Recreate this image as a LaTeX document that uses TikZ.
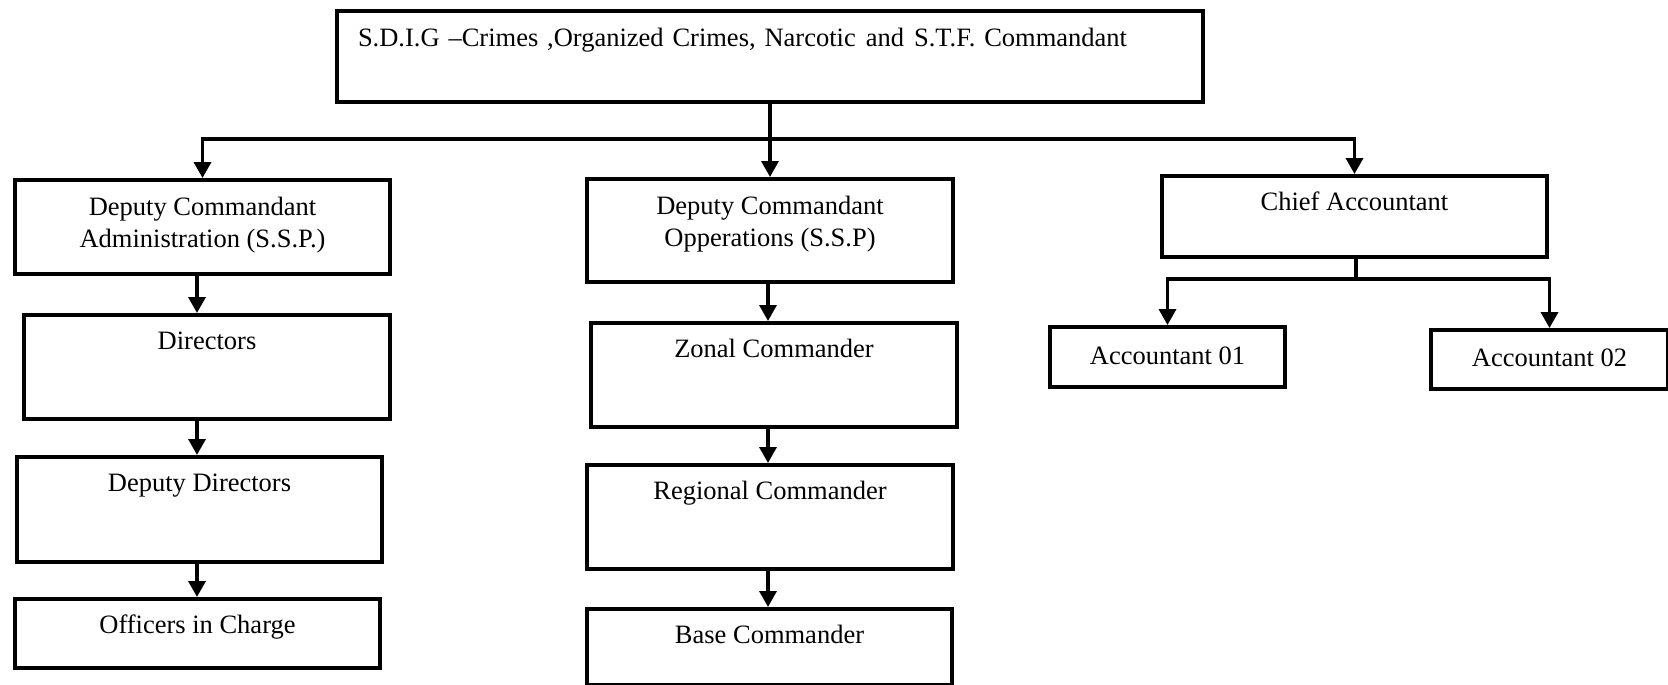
\documentclass[tikz,border=0pt]{standalone}
\usepackage{fontspec}
\setmainfont{Liberation Serif}
\usepackage{tikz}
\usetikzlibrary{arrows.meta}
\usetikzlibrary{positioning}
\tikzstyle{unit}=[draw=black,line width=4pt,rectangle,inner sep=0pt,
                  anchor=north west,text=black,
                  font=\fontsize{26.5}{32}\selectfont]
\tikzstyle{link}=[line width=3.5pt,
                  >={Triangle[length=16pt,width=17pt]}]

\begin{document}
\begin{tikzpicture}[x=1pt,y=-1pt]
\path[use as bounding box] (0,0) rectangle (1668,685);
% top
\node[unit, text width=824pt, inner xsep=21pt, align=left,
      text height=36pt, text depth=55pt] (sdig) at (335,9)
  {S.D.I.G –Crimes ,Organized Crimes, Narcotic\hspace{10pt}and\hspace{10pt}S.T.F. Commandant};
% administration column
\node[unit, minimum width=375pt, align=center, text height=67pt, text depth=27pt]
  (admin) at (13,178) {Deputy Commandant\\Administration (S.S.P.)};
\node[unit, minimum width=366pt, text height=34pt, text depth=70pt]
  (dirs) at (22,313) {Directors};
\node[unit, minimum width=365pt, text height=34pt, text depth=71pt]
  (ddirs) at (15,455) {Deputy Directors};
\node[unit, minimum width=365pt, text height=34pt, text depth=35pt]
  (oic) at (13,597) {Officers in Charge};
% operations column
\node[unit, minimum width=366pt, align=center, text height=67pt, text depth=36pt]
  (ops) at (585,177) {Deputy Commandant\\Opperations (S.S.P)};
\node[unit, minimum width=366pt, text height=34pt, text depth=70pt]
  (zonal) at (589,321) {Zonal Commander};
\node[unit, minimum width=366pt, text height=34pt, text depth=70pt]
  (regional) at (585,463) {Regional Commander};
\node[unit, minimum width=365pt, text height=34pt, text depth=42pt]
  (base) at (585,607) {Base Commander};
% accounts
\node[unit, minimum width=385pt, text height=34pt, text depth=47pt]
  (chief) at (1160,174) {Chief Accountant};
\node[unit, minimum width=235pt, text height=37pt, text depth=23pt]
  (acc1) at (1048,325) {Accountant 01};
\node[unit, minimum width=237pt, text height=36pt, text depth=23pt]
  (acc2) at (1429,328) {Accountant 02};
% connectors
\coordinate (bus) at (768,139);
\coordinate (split) at (1356,279);
\coordinate (colA) at (197,0);
\coordinate (colB) at (768,0);
\draw[link,<->] (admin) |- (bus) -| (chief);
\draw[link] (chief.south -| split) -- (split);
\draw[link,<->] (acc1) |- (split) -| (acc2);
\path[link,->]
  (sdig) edge (ops)
  (admin.south -| colA) edge (dirs.north -| colA)
  (dirs.south -| colA) edge (ddirs.north -| colA)
  (ddirs.south -| colA) edge (oic.north -| colA)
  (ops.south -| colB) edge (zonal.north -| colB)
  (zonal.south -| colB) edge (regional.north -| colB)
  (regional.south -| colB) edge (base.north -| colB);
\end{tikzpicture}
\end{document}
